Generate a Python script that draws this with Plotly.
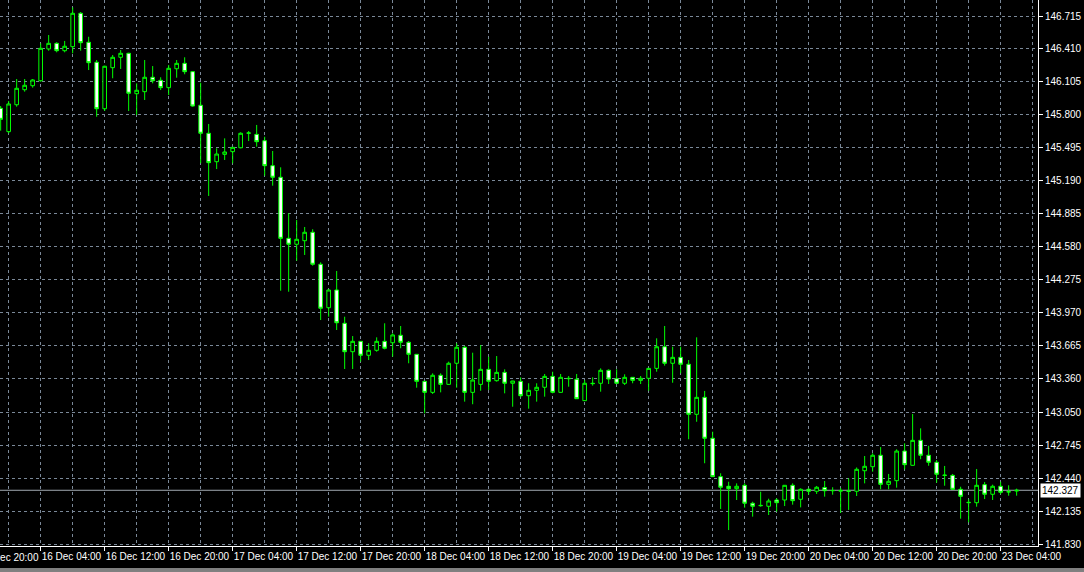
import plotly.graph_objects as go

# ---- data (hourly bars) ----
bar_index = list(range(128))

open_ = [145.861, 145.645, 145.894, 146.033, 146.070, 146.116, 146.410, 146.462, 146.394, 146.431,
         146.740, 146.472, 146.287, 145.857, 146.237, 146.333, 146.370, 145.996, 146.015, 146.148,
         146.120, 146.052, 146.227, 146.277, 146.200, 145.889, 145.630, 145.367, 145.435, 145.460,
         145.496, 145.630, 145.620, 145.561, 145.330, 145.223, 144.658, 144.603, 144.636, 144.714,
         144.418, 144.016, 144.180, 143.872, 143.609, 143.705, 143.576, 143.622, 143.705, 143.692,
         143.761, 143.696, 143.585, 143.335, 143.233, 143.391, 143.307, 143.502, 143.650, 143.233,
         143.307, 143.446, 143.341, 143.418, 143.317, 143.335, 143.202, 143.252, 143.280, 143.381,
         143.233, 143.363, 143.354, 143.156, 143.317, 143.317, 143.437, 143.359, 143.317, 143.372,
         143.344, 143.363, 143.455, 143.655, 143.502, 143.557, 143.493, 143.030, 143.187, 142.808,
         142.453, 142.364, 142.342, 142.373, 142.207, 142.184, 142.179, 142.237, 142.237, 142.373,
         142.244, 142.336, 142.318, 142.353, 142.323, 142.320, 142.320, 142.318, 142.508, 142.545,
         142.651, 142.382, 142.416, 142.690, 142.558, 142.789, 142.651, 142.586, 142.468, 142.465,
         142.336, 142.212, 142.212, 142.379, 142.290, 142.364, 142.311, 142.320]

high = [145.882, 145.929, 146.132, 146.132, 146.132, 146.462, 146.539, 146.472, 146.484, 146.795,
        146.752, 146.523, 146.308, 146.255, 146.354, 146.400, 146.375, 146.092, 146.308, 146.252,
        146.148, 146.262, 146.308, 146.333, 146.205, 146.098, 145.716, 145.491, 145.583, 145.503,
        145.639, 145.651, 145.707, 145.598, 145.466, 145.315, 144.890, 144.828, 144.763, 144.742,
        144.436, 144.184, 144.356, 143.933, 143.754, 143.708, 143.687, 143.742, 143.872, 143.779,
        143.847, 143.708, 143.588, 143.340, 143.409, 143.409, 143.517, 143.687, 143.662, 143.600,
        143.671, 143.563, 143.569, 143.446, 143.340, 143.372, 143.317, 143.317, 143.403, 143.424,
        143.403, 143.384, 143.403, 143.347, 143.372, 143.455, 143.446, 143.446, 143.400, 143.375,
        143.384, 143.458, 143.733, 143.847, 143.655, 143.655, 143.532, 143.742, 143.246, 142.869,
        142.484, 142.406, 142.391, 142.391, 142.221, 142.314, 142.249, 142.253, 142.376, 142.391,
        142.345, 142.345, 142.367, 142.413, 142.355, 142.348, 142.438, 142.538, 142.644, 142.669,
        142.727, 142.478, 142.706, 142.762, 143.033, 142.900, 142.739, 142.607, 142.552, 142.478,
        142.360, 142.244, 142.524, 142.404, 142.379, 142.406, 142.373, 142.342]

low = [145.654, 145.630, 145.876, 146.015, 146.052, 146.107, 146.394, 146.379, 146.379, 146.370,
       146.394, 146.215, 145.783, 145.836, 146.139, 146.225, 145.836, 145.799, 145.938, 146.092,
       146.030, 145.984, 146.144, 146.176, 145.876, 145.352, 145.050, 145.299, 145.383, 145.352,
       145.491, 145.558, 145.506, 145.237, 145.145, 144.173, 144.164, 144.451, 144.504, 144.405,
       143.902, 143.933, 143.810, 143.449, 143.449, 143.517, 143.532, 143.609, 143.631, 143.563,
       143.641, 143.502, 143.276, 143.039, 143.218, 143.233, 143.302, 143.276, 143.147, 143.123,
       143.248, 143.255, 143.332, 143.224, 143.100, 143.187, 143.082, 143.147, 143.193, 143.224,
       143.230, 143.285, 143.172, 143.153, 143.295, 143.239, 143.310, 143.310, 143.301, 143.317,
       143.310, 143.248, 143.424, 143.480, 143.322, 143.409, 142.799, 142.961, 142.577, 142.450,
       142.154, 141.959, 142.237, 142.166, 142.083, 142.175, 142.098, 142.129, 142.181, 142.194,
       142.169, 142.286, 142.293, 142.268, 142.286, 142.117, 142.145, 142.274, 142.391, 142.499,
       142.336, 142.336, 142.351, 142.521, 142.555, 142.614, 142.554, 142.397, 142.369, 142.333,
       142.064, 142.031, 142.175, 142.246, 142.237, 142.290, 142.277, 142.277]

close = [145.759, 145.901, 146.046, 146.074, 146.123, 146.416, 146.462, 146.394, 146.435, 146.740,
         146.468, 146.283, 145.857, 146.250, 146.333, 146.370, 146.000, 146.028, 146.148, 146.116,
         146.052, 146.231, 146.277, 146.200, 145.882, 145.630, 145.358, 145.438, 145.457, 145.500,
         145.630, 145.633, 145.552, 145.330, 145.223, 144.658, 144.603, 144.649, 144.714, 144.418,
         144.011, 144.180, 143.877, 143.609, 143.705, 143.576, 143.622, 143.705, 143.641, 143.764,
         143.696, 143.585, 143.335, 143.233, 143.391, 143.307, 143.502, 143.650, 143.233, 143.347,
         143.446, 143.335, 143.418, 143.317, 143.338, 143.202, 143.252, 143.280, 143.381, 143.233,
         143.372, 143.360, 143.174, 143.317, 143.314, 143.437, 143.356, 143.317, 143.372, 143.344,
         143.363, 143.455, 143.655, 143.502, 143.557, 143.493, 143.030, 143.187, 142.808, 142.453,
         142.355, 142.342, 142.364, 142.207, 142.179, 142.187, 142.228, 142.212, 142.373, 142.231,
         142.336, 142.318, 142.355, 142.323, 142.325, 142.323, 142.318, 142.521, 142.549, 142.651,
         142.382, 142.410, 142.690, 142.564, 142.789, 142.651, 142.586, 142.475, 142.465, 142.336,
         142.271, 142.215, 142.373, 142.290, 142.364, 142.308, 142.314, 142.327]

time_labels = ["16 Dec 04:00", "16 Dec 12:00", "16 Dec 20:00", "17 Dec 04:00",
               "17 Dec 12:00", "17 Dec 20:00", "18 Dec 04:00", "18 Dec 12:00",
               "18 Dec 20:00", "19 Dec 04:00", "19 Dec 12:00", "19 Dec 20:00",
               "20 Dec 04:00", "20 Dec 12:00", "20 Dec 20:00", "23 Dec 04:00"]
time_label_bars = [5, 13, 21, 29, 37, 45, 53, 61, 69, 77, 85, 93, 101, 109, 117, 125]
first_label = "15 Dec 20:00"
first_label_bar = -3

price_ticks = [146.715, 146.410, 146.105, 145.800, 145.495, 145.190, 144.885, 144.580,
               144.275, 143.970, 143.665, 143.360, 143.050, 142.745, 142.440, 142.135, 141.830]
last_price = 142.327

# ---- style ----
LIME = "#00FF00"
GRID = "#7A8898"
FONT = dict(family="Liberation Sans, Arial, sans-serif", size=10, color="#FFFFFF")

x_range = [-0.084, 129.67]
y_range = [141.8115, 146.863]

fig = go.Figure()
fig.add_trace(go.Candlestick(
    x=bar_index, open=open_, high=high, low=low, close=close,
    increasing=dict(line=dict(color=LIME, width=1), fillcolor="#000000"),
    decreasing=dict(line=dict(color=LIME, width=1), fillcolor="#FFFFFF"),
    whiskerwidth=0, showlegend=False, hoverinfo="skip",
))

fig.update_layout(
    width=1084, height=572, autosize=False,
    margin=dict(l=0, r=46, t=0, b=26, autoexpand=False),
    paper_bgcolor="#000000", plot_bgcolor="#000000",
    font=FONT, boxgap=0.35, showlegend=False,
    xaxis=dict(
        range=x_range, rangeslider=dict(visible=False),
        tickmode="array", tickvals=time_label_bars, ticktext=time_labels,
        ticks="outside", ticklen=4, tickcolor="#FFFFFF", tickwidth=1,
        ticklabelposition="outside right", tickangle=0, automargin=False,
        ticklabelstandoff=1,
        showgrid=True, gridcolor=GRID, griddash="3px,3px", gridwidth=1,
        minor=dict(tick0=1, dtick=4, showgrid=True, gridcolor=GRID,
                   griddash="3px,3px", gridwidth=1, ticks=""),
        showline=True, linecolor="#FFFFFF", linewidth=1,
        zeroline=False, fixedrange=True, tickfont=FONT,
    ),
    yaxis=dict(
        range=y_range, side="right", automargin=False,
        tickmode="array", tickvals=price_ticks,
        ticktext=[f"{v:.3f}" for v in price_ticks],
        ticks="outside", ticklen=4, tickcolor="#FFFFFF", tickwidth=1,
        showgrid=True, gridcolor=GRID, griddash="3px,3px", gridwidth=1,
        showline=True, linecolor="#FFFFFF", linewidth=1,
        zeroline=False, fixedrange=True, tickfont=FONT,
    ),
)

# current price line and label
fig.add_shape(type="line", xref="paper", x0=0, x1=1, yref="y", y0=last_price, y1=last_price,
              line=dict(color="#A0A8B0", width=1), layer="below")
fig.add_annotation(xref="paper", x=1, xanchor="left", xshift=2, yref="y", y=last_price,
                   text=f"{last_price:.3f}", showarrow=False, bgcolor="#FFFFFF",
                   font=dict(family=FONT["family"], size=10, color="#000000"), borderpad=1)

# partially visible first time label (left of the visible range)
fx = (first_label_bar - x_range[0]) / (x_range[1] - x_range[0])
fig.add_annotation(xref="paper", x=fx, xanchor="left", xshift=0, yref="paper", y=0,
                   yanchor="top", yshift=-4, text=first_label, showarrow=False, font=FONT)

# window frame lines at the bottom
for yp in (-23 / 546, -25 / 546):
    fig.add_shape(type="line", xref="paper", x0=-0.01, x1=1.05, yref="paper", y0=yp, y1=yp,
                  line=dict(color="#FFFFFF", width=1))

fig.write_html("out.html", config={"displayModeBar": False},
               post_script="document.body.style.margin='0';document.body.style.overflow='hidden';")
